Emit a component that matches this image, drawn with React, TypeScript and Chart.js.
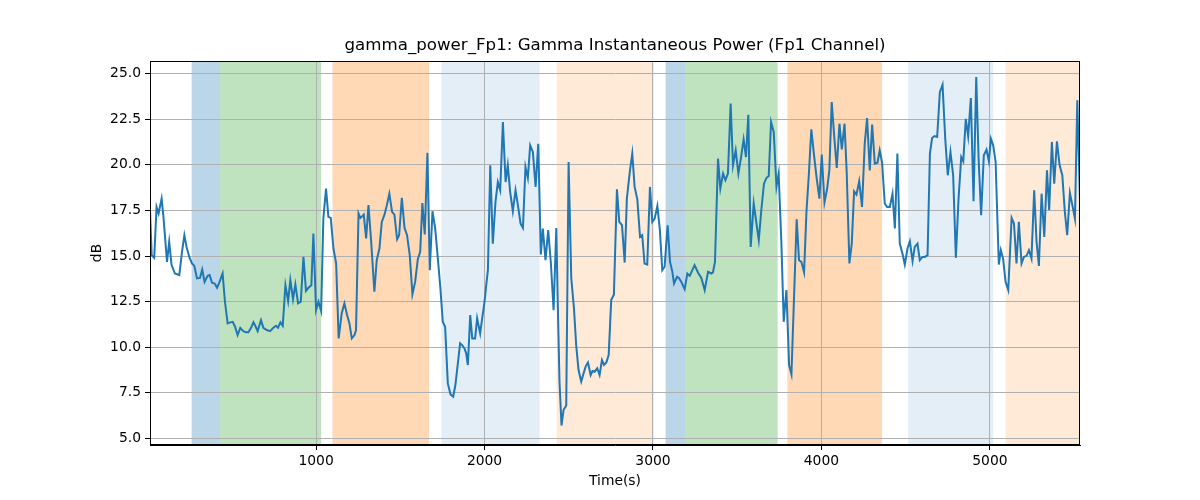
import React, { useEffect, useRef } from 'react';
import { Chart, registerables } from 'chart.js';

Chart.register(...registerables);

const TITLE = 'gamma_power_Fp1: Gamma Instantaneous Power (Fp1 Channel)';
const X_LABEL = 'Time(s)';
const Y_LABEL = 'dB';

const X_TICKS = [1000, 2000, 3000, 4000, 5000];
const Y_TICKS = [5, 7.5, 10, 12.5, 15, 17.5, 20, 22.5, 25];
const X_MIN = 14;
const X_MAX = 5535;
const Y_MIN = 4.63;
const Y_MAX = 25.7;

const TIMES = [
  14, 24, 39, 53, 65, 83, 93, 115, 128, 142, 162, 188, 204, 218, 231, 247, 263, 277, 293, 311,
  324, 338, 356, 368, 382, 398, 412, 427, 445, 459, 475, 491, 505, 519, 534, 550, 568, 584, 598, 614,
  628, 639, 653, 673, 687, 707, 727, 746, 762, 774, 788, 802, 818, 834, 847, 863, 877, 893, 909, 925,
  940, 956, 972, 984, 1000, 1014, 1030, 1043, 1059, 1073, 1087, 1103, 1119, 1134, 1152, 1168, 1184, 1198, 1212, 1228,
  1237, 1252, 1263, 1271, 1283, 1297, 1311, 1327, 1346, 1360, 1376, 1390, 1406, 1420, 1435, 1451, 1465, 1481, 1493, 1509,
  1525, 1540, 1556, 1572, 1588, 1604, 1618, 1631, 1645, 1661, 1675, 1691, 1707, 1723, 1738, 1752, 1766, 1782, 1798, 1814,
  1827, 1855, 1867, 1881, 1891, 1901, 1915, 1927, 1944, 1956, 1974, 1986, 2000, 2010, 2020, 2034, 2049, 2065, 2079, 2093,
  2109, 2125, 2138, 2152, 2168, 2184, 2198, 2214, 2228, 2243, 2257, 2271, 2287, 2303, 2319, 2334, 2346, 2362, 2378, 2394,
  2410, 2426, 2437, 2445, 2457, 2469, 2485, 2499, 2515, 2531, 2544, 2558, 2574, 2588, 2600, 2614, 2630, 2641, 2653, 2669,
  2683, 2697, 2709, 2723, 2737, 2752, 2768, 2786, 2800, 2816, 2832, 2845, 2861, 2877, 2891, 2907, 2923, 2936, 2950, 2966,
  2982, 2996, 3010, 3026, 3041, 3055, 3069, 3087, 3101, 3115, 3125, 3143, 3154, 3168, 3188, 3204, 3218, 3247, 3267, 3287,
  3307, 3327, 3346, 3356, 3368, 3386, 3400, 3416, 3430, 3445, 3461, 3475, 3491, 3507, 3523, 3538, 3552, 3566, 3580, 3598,
  3628, 3643, 3659, 3673, 3687, 3701, 3717, 3733, 3746, 3762, 3776, 3792, 3808, 3822, 3853, 3867, 3881, 3897, 3911, 3925,
  3940, 3956, 3972, 3988, 4002, 4018, 4034, 4047, 4061, 4077, 4091, 4107, 4121, 4137, 4150, 4166, 4180, 4194, 4208, 4224,
  4241, 4257, 4271, 4287, 4301, 4317, 4333, 4346, 4360, 4376, 4390, 4406, 4422, 4436, 4451, 4465, 4481, 4495, 4511, 4525,
  4541, 4554, 4570, 4584, 4600, 4614, 4630, 4644, 4657, 4671, 4687, 4703, 4719, 4735, 4750, 4766, 4782, 4798, 4814, 4830,
  4842, 4857, 4871, 4887, 4903, 4919, 4933, 4948, 4964, 4980, 4994, 5006, 5020, 5034, 5053, 5065, 5079, 5093, 5109, 5129,
  5143, 5158, 5172, 5188, 5202, 5218, 5232, 5247, 5263, 5277, 5291, 5307, 5323, 5339, 5352, 5368, 5382, 5398, 5414, 5430,
  5445, 5459, 5475, 5489, 5505, 5519, 5535,
];

const VALUES = [
  17.51, 15.05, 14.9, 17.69, 17.33, 18.15, 17.24, 14.68, 15.78, 14.5, 14.04, 13.95, 15.23, 16.14, 15.5, 14.95, 14.59, 14.46, 13.77, 13.8,
  14.26, 13.58, 13.91, 13.95, 13.53, 13.49, 13.26, 13.58, 14.04, 12.49, 11.3, 11.36, 11.39, 11.12, 10.66, 11.06, 10.88, 10.81, 10.81, 11.06,
  11.36, 11.17, 10.88, 11.48, 11.06, 10.94, 10.88, 11.06, 11.17, 11.06, 11.36, 11.17, 13.4, 12.53, 13.68, 12.63, 13.44, 12.4, 12.49, 14.95,
  13.09, 13.27, 13.4, 16.23, 12.03, 12.49, 11.98, 17.05, 18.7, 17.15, 17.09, 15.41, 14.59, 10.48, 11.85, 12.4, 11.76, 11.3, 10.48, 10.66,
  10.94, 17.33, 17.09, 17.15, 17.27, 15.96, 17.79, 15.78, 13.04, 14.77, 15.41, 16.87, 17.27, 17.79, 18.42, 17.42, 17.27, 15.92, 16.14, 18.19,
  16.54, 16.14, 15.05, 12.89, 13.58, 14.83, 15.23, 17.91, 16.18, 20.67, 14.22, 17.46, 16.51, 14.86, 13.22, 11.39, 11.12, 8.01, 7.41, 7.28,
  7.92, 10.21, 10.11, 9.93, 9.66, 9.02, 11.76, 10.48, 10.48, 11.58, 10.75, 11.58, 12.49, 13.4, 14.22, 19.98, 15.68, 17.97, 19.06, 18.61,
  22.35, 19.06, 19.98, 18.52, 17.46, 18.61, 17.79, 16.78, 16.54, 19.89, 19.28, 21.07, 20.71, 18.79, 21.16, 15.08, 16.51, 14.77, 16.42, 14.59,
  12.03, 16.54, 11.39, 8.1, 5.7, 6.55, 6.8, 20.16, 13.77, 12.12, 10.11, 8.74, 8.11, 8.56, 8.93, 9.16, 8.47, 8.69, 8.65, 8.84,
  8.47, 9.29, 9.02, 9.16, 9.57, 12.58, 12.89, 18.66, 16.87, 16.69, 14.64, 18.15, 19.52, 20.62, 18.79, 18.11, 16.05, 16.14, 14.59, 14.53,
  18.79, 16.87, 17.05, 17.75, 16.42, 14.22, 14.41, 16.69, 14.68, 14.13, 13.49, 13.86, 13.8, 13.58, 13.18, 14.04, 13.91, 14.5, 14.1, 13.8,
  13.13, 14.13, 14.04, 14.1, 14.68, 20.34, 18.7, 19.52, 19.16, 19.52, 23.36, 19.98, 20.8, 19.52, 20.43, 21.4, 20.43, 22.75, 15.5, 17.88,
  15.87, 17.51, 18.97, 19.28, 19.39, 22.35, 21.8, 18.79, 19.52, 15.78, 11.39, 13.13, 9.02, 8.51, 17.02, 14.77, 14.68, 14.1, 17.42, 19.43,
  21.95, 20.53, 19.25, 18.15, 20.56, 17.93, 18.7, 19.7, 23.45, 21.44, 19.83, 22.26, 20.85, 22.26, 19.61, 14.59, 15.68, 18.55, 18.37, 19.1,
  17.69, 21.16, 22.57, 19.7, 22.21, 20.07, 20.12, 20.8, 20.12, 17.88, 17.69, 17.69, 18.42, 16.51, 20.62, 15.68, 15.14, 14.53, 15.41, 15.81,
  14.72, 15.5, 15.68, 14.77, 14.95, 14.95, 15.05, 20.62, 21.47, 21.58, 21.53, 23.99, 24.4, 21.44, 19.43, 20.71, 19.43, 14.9, 18.15, 20.43,
  20.2, 22.53, 21.57, 23.67, 18.0, 24.82, 20.34, 17.24, 20.53, 20.84, 20.2, 21.44, 21.07, 20.16, 14.53, 15.32, 14.83, 13.58, 13.13, 17.09,
  16.78, 14.59, 16.87, 14.59, 14.95, 15.01, 15.32, 14.86, 18.61, 15.78, 14.46, 18.42, 16.05, 19.7, 17.51, 21.26, 18.97, 21.29, 19.98, 19.43,
  17.42, 16.14, 18.46, 17.82, 17.05, 23.54, 18.06,
];

const SPAN_STARTS = [261, 430, 1097, 1744, 2428, 3075, 3194, 3798, 4515, 5093];
const SPAN_ENDS = [430, 1030, 1671, 2327, 3006, 3194, 3740, 4360, 5020, 5535];
const SPAN_KINDS = ['blue', 'green', 'orange', 'lightblue', 'lightorange', 'blue', 'green', 'orange', 'lightblue', 'lightorange'];

const SPAN_COLORS: Record<string, string> = {
  blue: 'rgba(31,119,180,0.3)',
  green: 'rgba(44,160,44,0.3)',
  orange: 'rgba(255,127,14,0.3)',
  lightblue: 'rgba(31,119,180,0.12)',
  lightorange: 'rgba(255,127,14,0.16)',
};

const FONT = '"DejaVu Sans", "Liberation Sans", sans-serif';

const spanPlugin = {
  id: 'spans',
  beforeDraw(chart: any) {
    const { ctx, chartArea, scales } = chart;
    const x = scales.x;
    ctx.save();
    ctx.beginPath();
    ctx.rect(chartArea.left, chartArea.top, chartArea.right - chartArea.left, chartArea.bottom - chartArea.top);
    ctx.clip();
    for (let i = 0; i < SPAN_STARTS.length; i++) {
      const x0 = x.getPixelForValue(SPAN_STARTS[i]);
      const x1 = x.getPixelForValue(SPAN_ENDS[i]);
      ctx.fillStyle = SPAN_COLORS[SPAN_KINDS[i]];
      ctx.fillRect(x0, chartArea.top, x1 - x0, chartArea.bottom - chartArea.top);
    }
    ctx.restore();
  },
  afterDraw(chart: any) {
    const { ctx, chartArea } = chart;
    ctx.save();
    ctx.strokeStyle = '#000';
    ctx.lineWidth = 1;
    ctx.strokeRect(
      Math.round(chartArea.left) + 0.5,
      Math.round(chartArea.top) + 0.5,
      Math.round(chartArea.right - chartArea.left) - 1,
      Math.round(chartArea.bottom - chartArea.top) - 1
    );
    ctx.fillStyle = '#000';
    ctx.font = '16.67px ' + FONT;
    ctx.textAlign = 'center';
    ctx.textBaseline = 'middle';
    ctx.fillText(TITLE, (chartArea.left + chartArea.right) / 2, 46);
    ctx.restore();
  },
};

export default function App() {
  const ref = useRef<HTMLCanvasElement | null>(null);

  useEffect(() => {
    if (!ref.current) return;
    const data = TIMES.map((t, i) => ({ x: t, y: VALUES[i] }));
    const chart = new Chart(ref.current, {
      type: 'line',
      data: {
        datasets: [
          {
            data,
            borderColor: '#1f77b4',
            borderWidth: 2,
            pointRadius: 0,
            tension: 0,
            fill: false,
          },
        ],
      },
      options: {
        animation: false,
        responsive: false,
        devicePixelRatio: 1,
        layout: { padding: { top: 61, right: 120, bottom: 0, left: 0 } },
        plugins: {
          legend: { display: false },
          tooltip: { enabled: false },
          title: { display: false },
        },
        scales: {
          x: {
            type: 'linear',
            min: X_MIN,
            max: X_MAX,
            afterBuildTicks: (scale: any) => {
              scale.ticks = X_TICKS.map((v) => ({ value: v }));
            },
            afterFit: (scale: any) => {
              scale.height = 55;
            },
            ticks: {
              autoSkip: false,
              maxRotation: 0,
              padding: 3,
              color: '#000',
              font: { family: FONT, size: 13.89 },
              callback: (v: any) => String(v),
            },
            grid: {
              color: '#b0b0b0',
              lineWidth: 1,
              drawTicks: true,
              tickLength: 5,
              tickColor: '#000',
            },
            border: { display: true, color: '#000', width: 1 },
            title: {
              display: true,
              text: X_LABEL,
              color: '#000',
              font: { family: FONT, size: 13.89 },
              padding: { top: 0, bottom: 10.7 },
            },
          },
          y: {
            type: 'linear',
            min: Y_MIN,
            max: Y_MAX,
            afterBuildTicks: (scale: any) => {
              scale.ticks = Y_TICKS.map((v) => ({ value: v }));
            },
            afterFit: (scale: any) => {
              scale.width = 150;
            },
            ticks: {
              autoSkip: false,
              padding: 4,
              color: '#000',
              font: { family: FONT, size: 13.89 },
              callback: (v: any) => Number(v).toFixed(1),
            },
            grid: {
              color: '#b0b0b0',
              lineWidth: 1,
              drawTicks: true,
              tickLength: 5,
              tickColor: '#000',
            },
            border: { display: true, color: '#000', width: 1 },
            title: {
              display: true,
              text: Y_LABEL,
              color: '#000',
              font: { family: FONT, size: 13.89 },
              padding: { top: 88.7, bottom: 0 },
            },
          },
        },
      },
      plugins: [spanPlugin],
    });
    return () => chart.destroy();
  }, []);

  return (
    <div style={{ position: 'absolute', left: 0, top: 0, width: 1200, height: 500 }}>
      <canvas ref={ref} width={1200} height={500} style={{ width: 1200, height: 500 }} />
    </div>
  );
}
